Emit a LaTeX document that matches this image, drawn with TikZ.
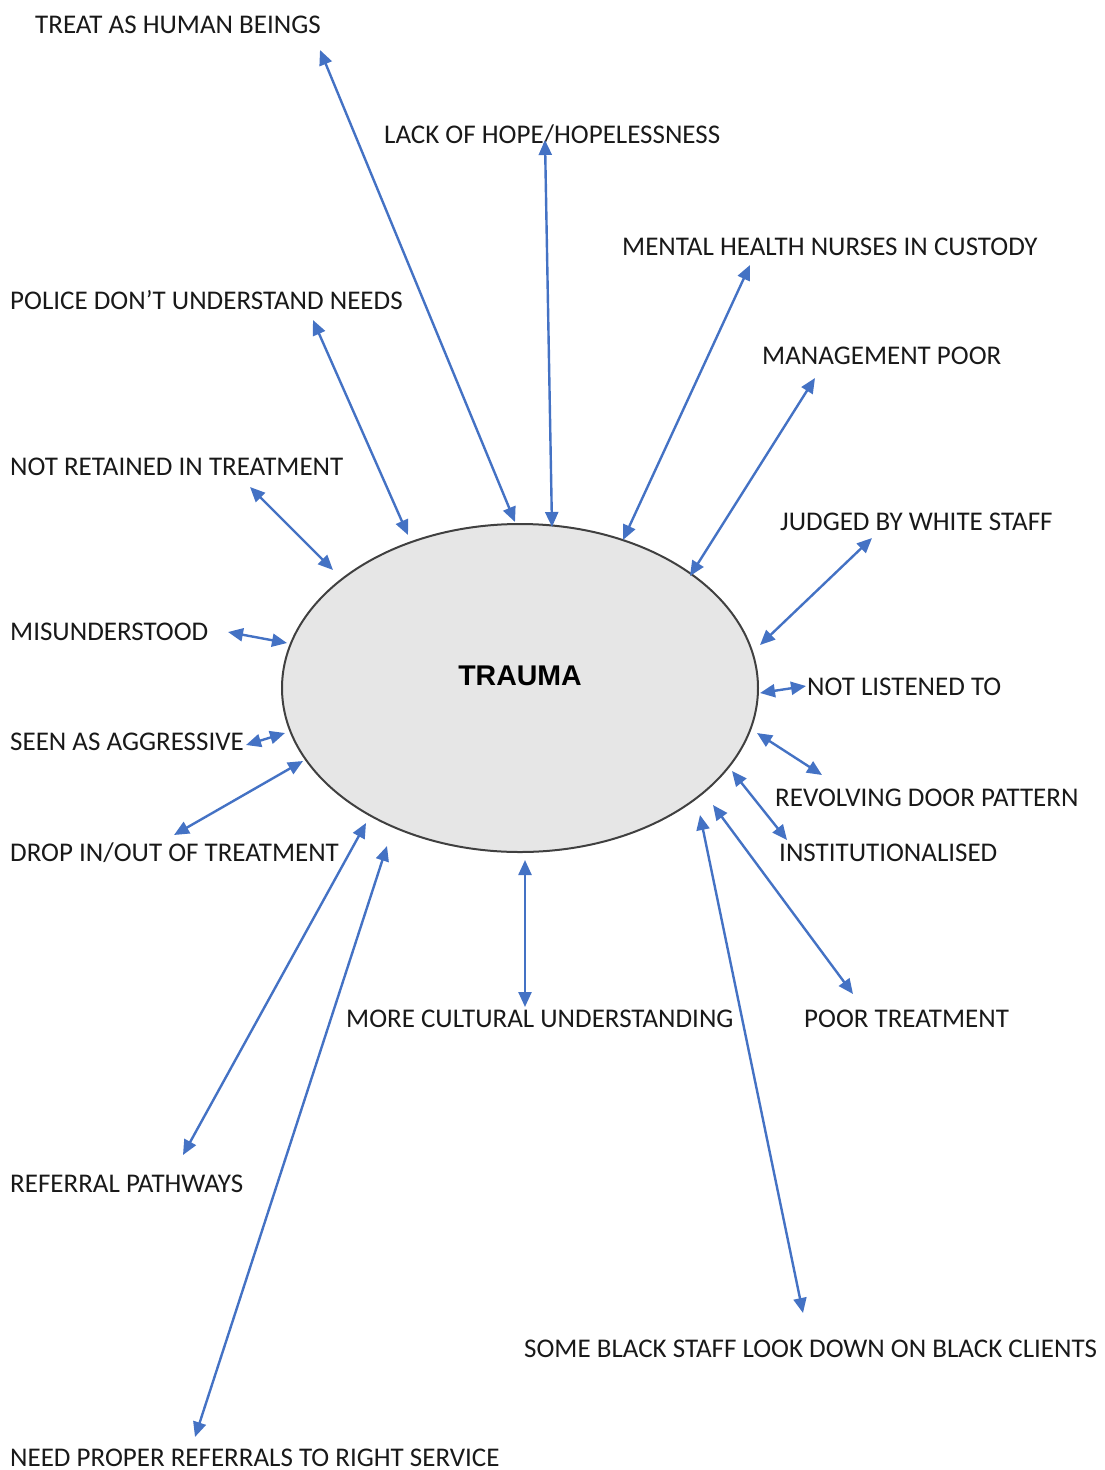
\documentclass[tikz,border=0pt]{standalone}
\usepackage{fontspec}
\setmainfont{Carlito}
\newfontfamily\arialb{Liberation Sans}
\usetikzlibrary{arrows.meta,shapes.geometric}
\definecolor{arrblue}{RGB}{68,114,196}
\definecolor{ellfill}{RGB}{230,230,230}
\definecolor{elldraw}{RGB}{64,64,64}
\begin{document}
\begin{tikzpicture}[x=1pt,y=-1pt,
  lbl/.style={anchor=base west,inner sep=0pt,font=\fontsize{27}{30}\selectfont,text=black!90},
  arr/.style={draw=arrblue,line width=2.4pt,{Triangle[length=15pt,width=13pt]}-{Triangle[length=15pt,width=13pt]}},
  blob/.style={ellipse,draw=elldraw,fill=ellfill,line width=2pt,minimum width=476pt,minimum height=328pt,inner sep=0pt}]
\useasboundingbox (0,0) rectangle (1104,1470);
\node[blob] (trauma) at (520,688) {};
\node[inner sep=0pt,font=\arialb\bfseries\fontsize{28.5}{32}\selectfont] (traumalbl) at (520,676) {TRAUMA};
% labels
\node[lbl] (l1) at (35,33) {TREAT AS HUMAN BEINGS};
\node[lbl] (l2) at (384,143) {LACK OF HOPE/HOPELESSNESS};
\node[lbl] (l3) at (622,255) {MENTAL HEALTH NURSES IN CUSTODY};
\node[lbl] (l4) at (10,309) {POLICE DON’T UNDERSTAND NEEDS};
\node[lbl] (l5) at (762,364) {MANAGEMENT POOR};
\node[lbl] (l6) at (10,475) {NOT RETAINED IN TREATMENT};
\node[lbl] (l7) at (780,530) {JUDGED BY WHITE STAFF};
\node[lbl] (l8) at (10,640) {MISUNDERSTOOD};
\node[lbl] (l9) at (807,695) {NOT LISTENED TO};
\node[lbl] (l10) at (10,750) {SEEN AS AGGRESSIVE};
\node[lbl] (l11) at (775,806) {REVOLVING DOOR PATTERN};
\node[lbl] (l12) at (10,861) {DROP IN/OUT OF TREATMENT};
\node[lbl] (l13) at (779,861) {INSTITUTIONALISED};
\node[lbl] (l14) at (346,1027) {MORE CULTURAL UNDERSTANDING};
\node[lbl] (l15) at (804,1027) {POOR TREATMENT};
\node[lbl] (l16) at (10,1192) {REFERRAL PATHWAYS};
\node[lbl] (l17) at (524,1357) {SOME BLACK STAFF LOOK DOWN ON BLACK CLIENTS};
\node[lbl] (l18) at (10,1466) {NEED PROPER REFERRALS TO RIGHT SERVICE};
% arrow end points
\coordinate (a1) at (320,50);   \coordinate (b1) at (515,522);
\coordinate (a2) at (545,140);  \coordinate (b2) at (552,527);
\coordinate (a3) at (750,265);  \coordinate (b3) at (623,540);
\coordinate (a4) at (313,320);  \coordinate (b4) at (408,535);
\coordinate (a5) at (815,378);  \coordinate (b5) at (690,576);
\coordinate (a6) at (250,487);  \coordinate (b6) at (333,570);
\coordinate (a7) at (872,538);  \coordinate (b7) at (760,645);
\coordinate (a8) at (228,632);  \coordinate (b8) at (287,643);
\coordinate (a9) at (806,686);  \coordinate (b9) at (760,693);
\coordinate (a10) at (246,745); \coordinate (b10) at (285,733);
\coordinate (a11) at (822,775); \coordinate (b11) at (757,733);
\coordinate (a12) at (174,835); \coordinate (b12) at (303,761);
\coordinate (a13) at (787,840); \coordinate (b13) at (732,771);
\coordinate (a14) at (525,1007);\coordinate (b14) at (525,860);
\coordinate (a15) at (853,994); \coordinate (b15) at (713,805);
\coordinate (a16) at (183,1155);\coordinate (b16) at (366,823);
\coordinate (a17) at (803,1313);\coordinate (b17) at (700,815);
\coordinate (a18) at (195,1437);\coordinate (b18) at (387,846);
\foreach \i in {1,...,18} {\draw[arr] (a\i) -- (b\i);}
\end{tikzpicture}
\end{document}
